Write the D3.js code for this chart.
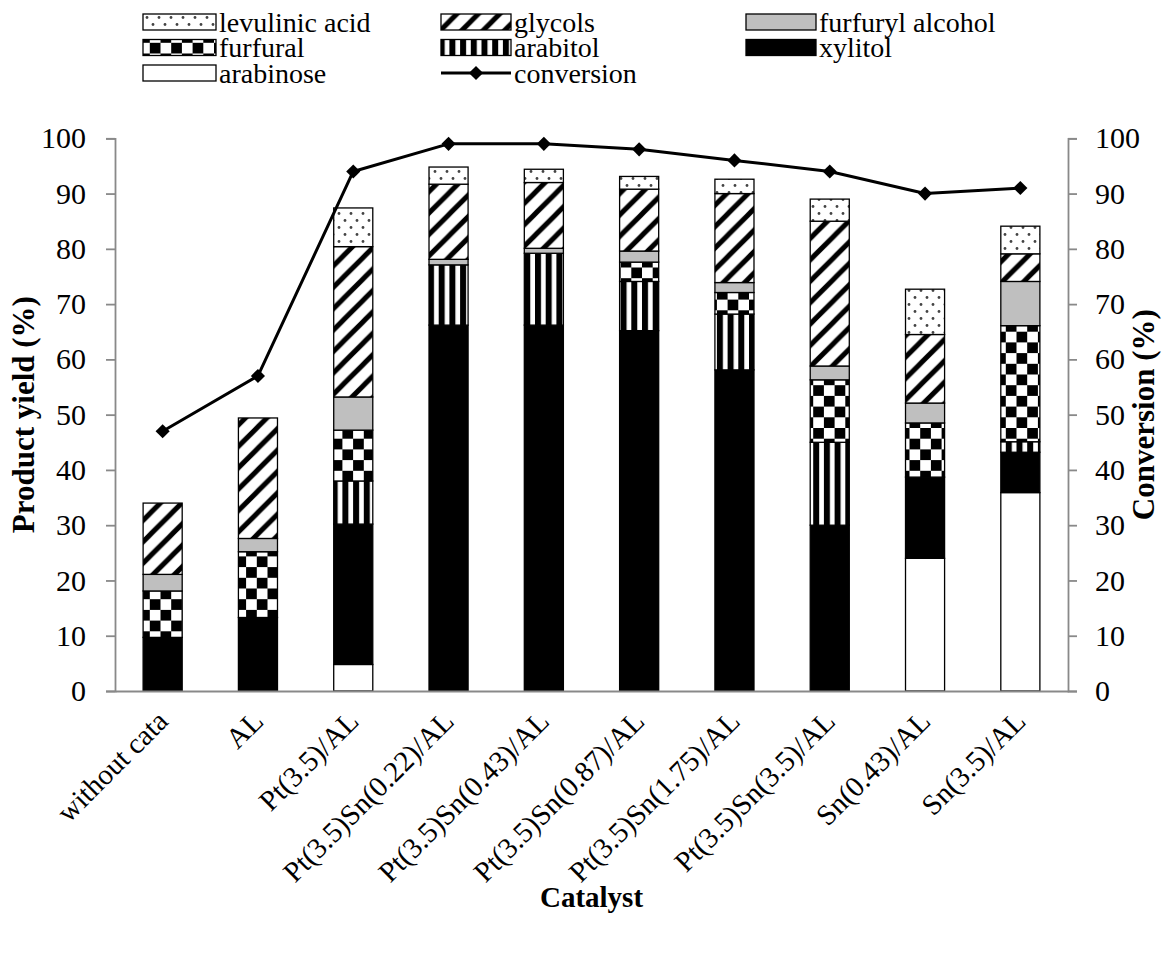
<!DOCTYPE html>
<html>
<head>
<meta charset="utf-8">
<script src="https://cdn.jsdelivr.net/npm/d3@7"></script>
<style>
  html, body { margin: 0; padding: 0; background: #fff; }
  svg { display: block; font-family: "Liberation Serif", serif; }
</style>
</head>
<body>
<svg id="chart" width="1162" height="961"></svg>
<script>
// Catalyst names along the x axis
const categories = [
  "without cata", "AL", "Pt(3.5)/AL", "Pt(3.5)Sn(0.22)/AL", "Pt(3.5)Sn(0.43)/AL",
  "Pt(3.5)Sn(0.87)/AL", "Pt(3.5)Sn(1.75)/AL", "Pt(3.5)Sn(3.5)/AL", "Sn(0.43)/AL", "Sn(3.5)/AL"
];

// Product yields (%) per catalyst, stacked bottom to top
const arabinose      = [0, 0, 4.8, 0, 0, 0, 0, 0, 24.0, 35.9];
const xylitol        = [9.7, 13.3, 25.4, 66.2, 66.2, 65.2, 58.1, 30.0, 14.7, 7.3];
const arabitol       = [0, 0, 7.8, 10.9, 13.0, 8.9, 10.1, 15.0, 0, 1.9];
const furfural       = [8.4, 11.9, 9.2, 0, 0, 3.5, 3.9, 11.3, 9.8, 21.0];
const furfurylAlc    = [3.0, 2.4, 6.0, 1.0, 0.9, 2.0, 1.8, 2.5, 3.6, 8.0];
const glycols        = [12.9, 21.8, 27.2, 13.6, 11.9, 11.2, 16.1, 26.2, 12.4, 5.0];
const levulinicAcid  = [0, 0, 7.0, 3.1, 2.4, 2.3, 2.6, 4.0, 8.2, 5.0];

// Conversion (%) on the right axis
const conversion = [47, 57, 94, 99, 99, 98, 96, 94, 90, 91];

// Tick values for both value axes
const yTicks = [0, 10, 20, 30, 40, 50, 60, 70, 80, 90, 100];

const seriesDefs = [
  { key: "arabinose",     label: "arabinose",       values: arabinose,     fill: "#ffffff" },
  { key: "xylitol",       label: "xylitol",         values: xylitol,       fill: "#000000" },
  { key: "arabitol",      label: "arabitol",        values: arabitol,      fill: "url(#pat-vert)" },
  { key: "furfural",      label: "furfural",        values: furfural,      fill: "url(#pat-check)" },
  { key: "furfurylAlc",   label: "furfuryl alcohol",values: furfurylAlc,   fill: "#bfbfbf" },
  { key: "glycols",       label: "glycols",         values: glycols,       fill: "url(#pat-diag)" },
  { key: "levulinicAcid", label: "levulinic acid",  values: levulinicAcid, fill: "url(#pat-dots)" }
];

const svg = d3.select("#chart");
const LEGEND_FONT = 28;
const TICK_FONT = 30;
const CAT_FONT = 29;
const AXIS_GREY = "#898989";

// ---- fill patterns ----
const defs = svg.append("defs");

const check = defs.append("pattern").attr("id", "pat-check")
  .attr("patternUnits", "userSpaceOnUse").attr("width", 21.4).attr("height", 21.4);
check.append("rect").attr("width", 21.4).attr("height", 21.4).attr("fill", "#fff");
check.append("rect").attr("x", 0).attr("y", 0).attr("width", 10.7).attr("height", 10.7).attr("fill", "#000");
check.append("rect").attr("x", 10.7).attr("y", 10.7).attr("width", 10.7).attr("height", 10.7).attr("fill", "#000");

const vert = defs.append("pattern").attr("id", "pat-vert")
  .attr("patternUnits", "userSpaceOnUse").attr("width", 10.7).attr("height", 10);
vert.append("rect").attr("width", 10.7).attr("height", 10).attr("fill", "#fff");
vert.append("rect").attr("x", 0).attr("width", 6).attr("height", 10).attr("fill", "#000");

const diag = defs.append("pattern").attr("id", "pat-diag")
  .attr("patternUnits", "userSpaceOnUse").attr("width", 21.4).attr("height", 21.4);
diag.append("rect").attr("width", 21.4).attr("height", 21.4).attr("fill", "#fff");
diag.append("path")
  .attr("d", "M-5.35,5.35L5.35,-5.35M0,21.4L21.4,0M16.05,26.75L26.75,16.05")
  .attr("stroke", "#000").attr("stroke-width", 5);

const dots = defs.append("pattern").attr("id", "pat-dots")
  .attr("patternUnits", "userSpaceOnUse").attr("width", 12).attr("height", 14);
dots.append("rect").attr("width", 12).attr("height", 14).attr("fill", "#fff");
dots.append("circle").attr("cx", 3).attr("cy", 3.5).attr("r", 1.4).attr("fill", "#444");
dots.append("circle").attr("cx", 9).attr("cy", 10.5).attr("r", 1.4).attr("fill", "#444");

// ---- scales ----
const plotLeft = 115, plotRight = 1068, plotTop = 138.3, plotBottom = 691;

const x = d3.scaleBand().domain(categories)
  .range([plotLeft, plotRight]).paddingInner(0.59).paddingOuter(0.295);
const y = d3.scaleLinear().domain([0, 100]).range([plotBottom, plotTop]);
const y2 = d3.scaleLinear().domain([0, 100]).range([plotBottom, plotTop]);

// ---- stacked bars ----
const table = categories.map((c, i) => {
  const row = { cat: c };
  seriesDefs.forEach(s => { row[s.key] = s.values[i]; });
  return row;
});
const stacked = d3.stack().keys(seriesDefs.map(s => s.key))(table);

const barG = svg.append("g");
stacked.forEach((layer, li) => {
  const def = seriesDefs[li];
  barG.append("g").selectAll("rect")
    .data(layer.filter(d => d[1] - d[0] > 0))
    .join("rect")
    .attr("x", d => x(d.data.cat))
    .attr("width", x.bandwidth())
    .attr("y", d => y(d[1]))
    .attr("height", d => y(d[0]) - y(d[1]))
    .attr("fill", def.fill)
    .attr("stroke", "#000")
    .attr("stroke-width", 1.3);
});

// ---- axes ----
function styleAxis(g, size) {
  g.selectAll("path.domain").attr("stroke", AXIS_GREY).attr("stroke-width", 1.8);
  g.selectAll(".tick line").attr("stroke", AXIS_GREY).attr("stroke-width", 1.8);
  g.selectAll(".tick text").attr("fill", "#000")
    .style("font-family", "Liberation Serif").style("font-size", size + "px");
}

const xAxis = svg.append("g").attr("transform", `translate(0,${plotBottom})`)
  .call(d3.axisBottom(x).tickSize(0).tickSizeOuter(0));
styleAxis(xAxis, CAT_FONT);
xAxis.selectAll(".tick text")
  .attr("y", 0).attr("dy", 0)
  .attr("text-anchor", "end")
  .attr("transform", "translate(7,32) rotate(-45)");

const yAxis = svg.append("g").attr("transform", `translate(${plotLeft},0)`)
  .call(d3.axisLeft(y).tickValues(yTicks).tickSize(9).tickSizeOuter(9).tickPadding(20));
styleAxis(yAxis, TICK_FONT);

const yAxis2 = svg.append("g").attr("transform", `translate(${plotRight},0)`)
  .call(d3.axisRight(y2).tickValues(yTicks).tickSize(9).tickSizeOuter(9).tickPadding(18));
styleAxis(yAxis2, TICK_FONT);

// ---- conversion line ----
const line = d3.line()
  .x((d, i) => x(categories[i]) + x.bandwidth() / 2)
  .y(d => y2(d));
svg.append("path").datum(conversion)
  .attr("d", line).attr("fill", "none")
  .attr("stroke", "#000").attr("stroke-width", 3).attr("stroke-linejoin", "round");

const diamond = d3.symbol(d3.symbolSquare, 100);
svg.append("g").selectAll("path")
  .data(conversion).join("path")
  .attr("d", diamond)
  .attr("transform", (d, i) =>
    `translate(${x(categories[i]) + x.bandwidth() / 2},${y2(d)}) rotate(45)`)
  .attr("fill", "#000");

// ---- axis titles ----
svg.append("text")
  .attr("transform", `translate(34,${(plotTop + plotBottom) / 2}) rotate(-90)`)
  .attr("text-anchor", "middle").attr("font-weight", "bold")
  .style("font-size", "31px").text("Product yield (%)");

svg.append("text")
  .attr("transform", `translate(1154,${(plotTop + plotBottom) / 2}) rotate(-90)`)
  .attr("text-anchor", "middle").attr("font-weight", "bold")
  .style("font-size", "31px").text("Conversion (%)");

svg.append("text")
  .attr("x", (plotLeft + plotRight) / 2).attr("y", 907)
  .attr("text-anchor", "middle").attr("font-weight", "bold")
  .style("font-size", "29px").text("Catalyst");

// ---- legend ----
const legendItems = [
  { label: "levulinic acid",   fill: "url(#pat-dots)",  col: 0, row: 0 },
  { label: "glycols",          fill: "url(#pat-diag)",  col: 1, row: 0 },
  { label: "furfuryl alcohol", fill: "#bfbfbf",         col: 2, row: 0 },
  { label: "furfural",         fill: "url(#pat-check)", col: 0, row: 1 },
  { label: "arabitol",         fill: "url(#pat-vert)",  col: 1, row: 1 },
  { label: "xylitol",          fill: "#000000",         col: 2, row: 1 },
  { label: "arabinose",        fill: "#ffffff",         col: 0, row: 2 },
  { label: "conversion",       line: true,              col: 1, row: 2 }
];
const colX = [143, 441, 746];
const swatchW = [73, 70, 70];
const rowY = [22, 47.5, 73];

const legend = svg.append("g");
legendItems.forEach(it => {
  const x0 = colX[it.col], w = swatchW[it.col], cy = rowY[it.row];
  if (it.line) {
    legend.append("line").attr("x1", x0).attr("x2", x0 + w)
      .attr("y1", cy).attr("y2", cy).attr("stroke", "#000").attr("stroke-width", 3);
    legend.append("path").attr("d", diamond)
      .attr("transform", `translate(${x0 + w / 2},${cy}) rotate(45)`).attr("fill", "#000");
  } else {
    legend.append("rect").attr("x", x0).attr("y", cy - 8).attr("width", w).attr("height", 16)
      .attr("fill", it.fill).attr("stroke", "#000").attr("stroke-width", 1.3);
  }
  legend.append("text").attr("x", x0 + w + 3).attr("y", cy).attr("dy", "0.35em")
    .style("font-size", LEGEND_FONT + "px").text(it.label);
});
</script>
</body>
</html>
